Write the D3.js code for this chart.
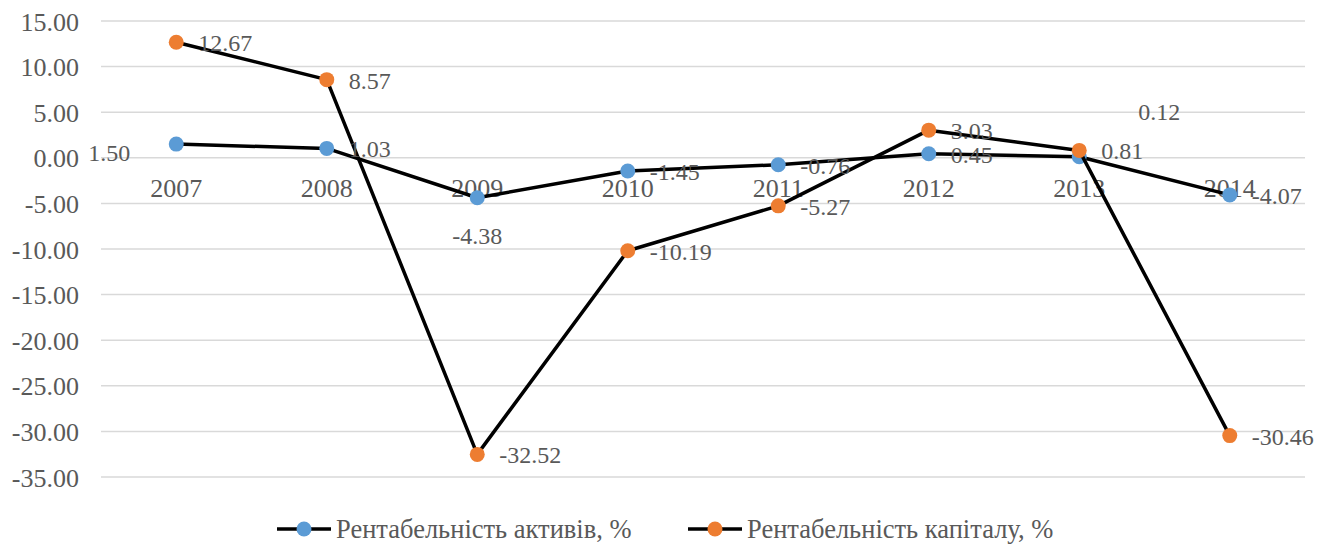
<!DOCTYPE html>
<html>
<head>
<meta charset="utf-8">
<script src="https://cdn.jsdelivr.net/npm/d3@7"></script>
</head>
<body style="margin:0; background:#fff">
<svg id="chart"></svg>
<script>
// data
const years = ["2007", "2008", "2009", "2010", "2011", "2012", "2013", "2014"];
const assets = [1.50, 1.03, -4.38, -1.45, -0.76, 0.45, 0.12, -4.07];
const capital = [12.67, 8.57, -32.52, -10.19, -5.27, 3.03, 0.81, -30.46];
const yTicks = [15, 10, 5, 0, -5, -10, -15, -20, -25, -30, -35];
const seriesNames = ["Рентабельність активів, %", "Рентабельність капіталу, %"];

const width = 1328, height = 544;
const margin = {top: 21, right: 23, bottom: 67, left: 101};

const svg = d3.select("#chart")
    .attr("width", width)
    .attr("height", height);

const x = d3.scaleBand()
    .domain(years)
    .range([margin.left, width - margin.right]);

const y = d3.scaleLinear()
    .domain([-35, 15])
    .range([height - margin.bottom, margin.top]);

const fmt = d3.formatLocale({decimal: ".", thousands: ",", grouping: [3], currency: ["", ""], minus: "-"}).format(".2f");

const cx = (d, i) => x(years[i]) + x.bandwidth() / 2;

function label(sel, size) {
    return sel.attr("fill", "#595959")
        .attr("font-size", size)
        .attr("font-family", "Liberation Serif");
}

// gridlines
svg.append("g")
    .selectAll("line")
    .data(yTicks)
    .enter()
    .append("line")
    .attr("x1", margin.left)
    .attr("x2", width - margin.right)
    .attr("y1", d => y(d))
    .attr("y2", d => y(d))
    .attr("stroke", "#d9d9d9")
    .attr("stroke-width", 1.5);

// y labels
svg.append("g")
    .selectAll("text")
    .data(yTicks)
    .enter()
    .append("text")
    .attr("x", 79)
    .attr("y", d => y(d))
    .attr("dy", "0.37em")
    .attr("text-anchor", "end")
    .call(label, 26)
    .text(d => fmt(d));

// category labels sit just under the zero line
svg.append("g")
    .selectAll("text")
    .data(years)
    .enter()
    .append("text")
    .attr("x", d => x(d) + x.bandwidth() / 2)
    .attr("y", y(0) + 39.5)
    .attr("text-anchor", "middle")
    .call(label, 26)
    .text(d => d);

const line = d3.line()
    .x(cx)
    .y(d => y(d));

function drawSeries(values, color) {
    svg.append("path")
        .datum(values)
        .attr("d", line)
        .attr("fill", "none")
        .attr("stroke", "#000")
        .attr("stroke-width", 3.5)
        .attr("stroke-linejoin", "round");

    svg.append("g")
        .selectAll("circle")
        .data(values)
        .enter()
        .append("circle")
        .attr("cx", cx)
        .attr("cy", d => y(d))
        .attr("r", 7.5)
        .attr("fill", color);
}

drawSeries(assets, "#5b9bd5");
drawSeries(capital, "#ed7d31");

// data labels, most are right of the point; a few were moved by hand
function drawLabels(values, moved) {
    svg.append("g")
        .selectAll("text")
        .data(values)
        .enter()
        .append("text")
        .attr("x", function (d, i) {
            const m = moved[years[i]];
            return cx(d, i) + (m ? m.dx : 22);
        })
        .attr("y", function (d, i) {
            const m = moved[years[i]];
            return y(d) + (m ? m.dy : 9);
        })
        .attr("text-anchor", (d, i) => (moved[years[i]] && moved[years[i]].anchor) || "start")
        .call(label, 24)
        .text(d => fmt(d));
}

drawLabels(assets, {
    "2007": {dx: -88, dy: 17},
    "2009": {dx: 0, dy: 46, anchor: "middle"},
    "2013": {dx: 59, dy: -36.5}
});
drawLabels(capital, {});

// legend
const legend = svg.append("g").attr("transform", "translate(0, 529)");
const legendX = [277, 688];
const legendColors = ["#5b9bd5", "#ed7d31"];

seriesNames.forEach(function (name, i) {
    const lx = legendX[i];
    legend.append("line")
        .attr("x1", lx).attr("x2", lx + 54)
        .attr("y1", 0).attr("y2", 0)
        .attr("stroke", "#000")
        .attr("stroke-width", 3.5);
    legend.append("circle")
        .attr("cx", lx + 27)
        .attr("cy", 0)
        .attr("r", 7.5)
        .attr("fill", legendColors[i]);
    legend.append("text")
        .attr("x", lx + 59)
        .attr("y", 0)
        .attr("dy", "0.33em")
        .call(label, 26.5)
        .text(name);
});
</script>
</body>
</html>
